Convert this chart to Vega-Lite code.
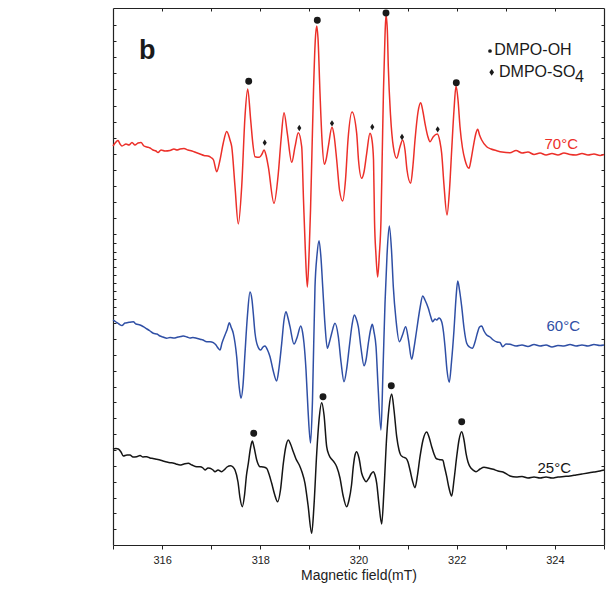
{
"$schema":"https://vega.github.io/schema/vega-lite/v6.json",
"width":491,"height":537,
"autosize":{"type":"none"},
"padding":{"left":113,"top":8,"right":2,"bottom":49},
"background":"white",
"config":{"view":{"stroke":null},"font":"Liberation Sans","axis":{"grid":false}},
"datasets":{
"spectra":[
{"s":"70°C","B":315.000,"I":399},{"s":"70°C","B":315.061,"I":403},{"s":"70°C","B":315.102,"I":404.5},{"s":"70°C","B":315.143,"I":401},{"s":"70°C","B":315.183,"I":399},{"s":"70°C","B":315.265,"I":401},{"s":"70°C","B":315.326,"I":400},{"s":"70°C","B":315.387,"I":402.5},{"s":"70°C","B":315.448,"I":400},{"s":"70°C","B":315.509,"I":402},{"s":"70°C","B":315.570,"I":402.5},{"s":"70°C","B":315.631,"I":399},{"s":"70°C","B":315.692,"I":398},{"s":"70°C","B":315.754,"I":397},{"s":"70°C","B":315.815,"I":395},{"s":"70°C","B":315.876,"I":394},{"s":"70°C","B":315.917,"I":392.5},{"s":"70°C","B":315.978,"I":395},{"s":"70°C","B":316.059,"I":394},{"s":"70°C","B":316.161,"I":394.5},{"s":"70°C","B":316.242,"I":396},{"s":"70°C","B":316.303,"I":395},{"s":"70°C","B":316.365,"I":396},{"s":"70°C","B":316.446,"I":396.5},{"s":"70°C","B":316.527,"I":395},{"s":"70°C","B":316.609,"I":394},{"s":"70°C","B":316.690,"I":392.5},{"s":"70°C","B":316.772,"I":391},{"s":"70°C","B":316.853,"I":389.5},{"s":"70°C","B":316.935,"I":389},{"s":"70°C","B":316.996,"I":387.5},{"s":"70°C","B":317.047,"I":385},{"s":"70°C","B":317.112,"I":373.3},{"s":"70°C","B":317.179,"I":385},{"s":"70°C","B":317.246,"I":402},{"s":"70°C","B":317.316,"I":413.5},{"s":"70°C","B":317.383,"I":405},{"s":"70°C","B":317.418,"I":398.3},{"s":"70°C","B":317.485,"I":358.3},{"s":"70°C","B":317.552,"I":321},{"s":"70°C","B":317.621,"I":358.3},{"s":"70°C","B":317.688,"I":428.3},{"s":"70°C","B":317.743,"I":456},{"s":"70°C","B":317.804,"I":425},{"s":"70°C","B":317.851,"I":400},{"s":"70°C","B":317.892,"I":388.3},{"s":"70°C","B":317.980,"I":387.7},{"s":"70°C","B":318.035,"I":391},{"s":"70°C","B":318.075,"I":395},{"s":"70°C","B":318.116,"I":390},{"s":"70°C","B":318.163,"I":378.3},{"s":"70°C","B":318.279,"I":341.7},{"s":"70°C","B":318.367,"I":371.7},{"s":"70°C","B":318.422,"I":405},{"s":"70°C","B":318.483,"I":432.3},{"s":"70°C","B":318.550,"I":411.7},{"s":"70°C","B":318.640,"I":382.7},{"s":"70°C","B":318.707,"I":398.3},{"s":"70°C","B":318.774,"I":412.3},{"s":"70°C","B":318.843,"I":398.3},{"s":"70°C","B":318.880,"I":345},{"s":"70°C","B":318.917,"I":295},{"s":"70°C","B":318.958,"I":258},{"s":"70°C","B":318.996,"I":295},{"s":"70°C","B":319.023,"I":335},{"s":"70°C","B":319.053,"I":395},{"s":"70°C","B":319.084,"I":455},{"s":"70°C","B":319.120,"I":505},{"s":"70°C","B":319.149,"I":519},{"s":"70°C","B":319.175,"I":507},{"s":"70°C","B":319.216,"I":451.7},{"s":"70°C","B":319.257,"I":405},{"s":"70°C","B":319.304,"I":380.7},{"s":"70°C","B":319.338,"I":385},{"s":"70°C","B":319.385,"I":398.3},{"s":"70°C","B":319.460,"I":417.7},{"s":"70°C","B":319.501,"I":410},{"s":"70°C","B":319.556,"I":385},{"s":"70°C","B":319.613,"I":355},{"s":"70°C","B":319.678,"I":344},{"s":"70°C","B":319.735,"I":365},{"s":"70°C","B":319.786,"I":405},{"s":"70°C","B":319.868,"I":433},{"s":"70°C","B":319.963,"I":411.7},{"s":"70°C","B":320.000,"I":385},{"s":"70°C","B":320.065,"I":366.7},{"s":"70°C","B":320.112,"I":373},{"s":"70°C","B":320.167,"I":391.7},{"s":"70°C","B":320.234,"I":411.7},{"s":"70°C","B":320.275,"I":405},{"s":"70°C","B":320.306,"I":385},{"s":"70°C","B":320.326,"I":325},{"s":"70°C","B":320.356,"I":290},{"s":"70°C","B":320.390,"I":268},{"s":"70°C","B":320.424,"I":290},{"s":"70°C","B":320.458,"I":325},{"s":"70°C","B":320.485,"I":395},{"s":"70°C","B":320.509,"I":455},{"s":"70°C","B":320.540,"I":510},{"s":"70°C","B":320.560,"I":530},{"s":"70°C","B":320.587,"I":515},{"s":"70°C","B":320.607,"I":478.3},{"s":"70°C","B":320.652,"I":430},{"s":"70°C","B":320.709,"I":398.3},{"s":"70°C","B":320.778,"I":386.7},{"s":"70°C","B":320.845,"I":398.3},{"s":"70°C","B":320.900,"I":405},{"s":"70°C","B":320.947,"I":395},{"s":"70°C","B":320.988,"I":375},{"s":"70°C","B":321.063,"I":361.7},{"s":"70°C","B":321.110,"I":380},{"s":"70°C","B":321.151,"I":405},{"s":"70°C","B":321.212,"I":433},{"s":"70°C","B":321.267,"I":442.3},{"s":"70°C","B":321.314,"I":433},{"s":"70°C","B":321.354,"I":421.7},{"s":"70°C","B":321.415,"I":408},{"s":"70°C","B":321.456,"I":403.3},{"s":"70°C","B":321.523,"I":408.3},{"s":"70°C","B":321.605,"I":411},{"s":"70°C","B":321.660,"I":403},{"s":"70°C","B":321.694,"I":391.7},{"s":"70°C","B":321.741,"I":360},{"s":"70°C","B":321.802,"I":330},{"s":"70°C","B":321.853,"I":355},{"s":"70°C","B":321.898,"I":395},{"s":"70°C","B":321.945,"I":435},{"s":"70°C","B":321.986,"I":459},{"s":"70°C","B":322.027,"I":445},{"s":"70°C","B":322.067,"I":418.3},{"s":"70°C","B":322.118,"I":397},{"s":"70°C","B":322.169,"I":385},{"s":"70°C","B":322.251,"I":376.7},{"s":"70°C","B":322.291,"I":385},{"s":"70°C","B":322.338,"I":398.3},{"s":"70°C","B":322.393,"I":412},{"s":"70°C","B":322.428,"I":415.7},{"s":"70°C","B":322.465,"I":410},{"s":"70°C","B":322.509,"I":405},{"s":"70°C","B":322.611,"I":398.3},{"s":"70°C","B":322.699,"I":396},{"s":"70°C","B":322.815,"I":394.3},{"s":"70°C","B":322.923,"I":393},{"s":"70°C","B":323.086,"I":392.3},{"s":"70°C","B":323.208,"I":394.5},{"s":"70°C","B":323.330,"I":392},{"s":"70°C","B":323.452,"I":393},{"s":"70°C","B":323.575,"I":390.5},{"s":"70°C","B":323.697,"I":392},{"s":"70°C","B":323.819,"I":390},{"s":"70°C","B":323.941,"I":391.5},{"s":"70°C","B":324.063,"I":390},{"s":"70°C","B":324.185,"I":392},{"s":"70°C","B":324.308,"I":390.5},{"s":"70°C","B":324.430,"I":390},{"s":"70°C","B":324.552,"I":391.5},{"s":"70°C","B":324.674,"I":390},{"s":"70°C","B":324.796,"I":391},{"s":"70°C","B":324.919,"I":389.5},{"s":"70°C","B":325.000,"I":390.5},
{"s":"60°C","B":315.000,"I":225},{"s":"60°C","B":315.061,"I":223},{"s":"60°C","B":315.122,"I":221},{"s":"60°C","B":315.183,"I":219.5},{"s":"60°C","B":315.244,"I":222},{"s":"60°C","B":315.306,"I":222.5},{"s":"60°C","B":315.367,"I":223},{"s":"60°C","B":315.413,"I":223.3},{"s":"60°C","B":315.468,"I":221},{"s":"60°C","B":315.550,"I":220},{"s":"60°C","B":315.617,"I":218.3},{"s":"60°C","B":315.692,"I":216},{"s":"60°C","B":315.754,"I":214},{"s":"60°C","B":315.821,"I":211.7},{"s":"60°C","B":315.896,"I":211},{"s":"60°C","B":315.957,"I":209},{"s":"60°C","B":316.018,"I":208},{"s":"60°C","B":316.094,"I":206.7},{"s":"60°C","B":316.161,"I":207.5},{"s":"60°C","B":316.242,"I":207},{"s":"60°C","B":316.324,"I":208},{"s":"60°C","B":316.385,"I":208.5},{"s":"60°C","B":316.432,"I":209},{"s":"60°C","B":316.507,"I":208},{"s":"60°C","B":316.568,"I":207},{"s":"60°C","B":316.629,"I":207.5},{"s":"60°C","B":316.705,"I":206.7},{"s":"60°C","B":316.772,"I":205.7},{"s":"60°C","B":316.833,"I":205},{"s":"60°C","B":316.908,"I":203.3},{"s":"60°C","B":316.976,"I":203.3},{"s":"60°C","B":317.043,"I":202.3},{"s":"60°C","B":317.098,"I":200},{"s":"60°C","B":317.139,"I":197},{"s":"60°C","B":317.179,"I":195},{"s":"60°C","B":317.220,"I":202},{"s":"60°C","B":317.281,"I":210},{"s":"60°C","B":317.322,"I":215},{"s":"60°C","B":317.369,"I":222.3},{"s":"60°C","B":317.404,"I":218},{"s":"60°C","B":317.450,"I":211.7},{"s":"60°C","B":317.519,"I":188.3},{"s":"60°C","B":317.566,"I":160},{"s":"60°C","B":317.607,"I":146.7},{"s":"60°C","B":317.648,"I":160},{"s":"60°C","B":317.688,"I":191.7},{"s":"60°C","B":317.739,"I":230},{"s":"60°C","B":317.790,"I":253},{"s":"60°C","B":317.831,"I":245},{"s":"60°C","B":317.857,"I":231.7},{"s":"60°C","B":317.892,"I":212},{"s":"60°C","B":317.939,"I":200},{"s":"60°C","B":318.008,"I":195},{"s":"60°C","B":318.055,"I":198},{"s":"60°C","B":318.096,"I":199},{"s":"60°C","B":318.147,"I":195},{"s":"60°C","B":318.198,"I":188.3},{"s":"60°C","B":318.259,"I":175},{"s":"60°C","B":318.334,"I":164},{"s":"60°C","B":318.381,"I":177},{"s":"60°C","B":318.436,"I":201.7},{"s":"60°C","B":318.483,"I":225},{"s":"60°C","B":318.523,"I":233.3},{"s":"60°C","B":318.564,"I":227},{"s":"60°C","B":318.605,"I":218.3},{"s":"60°C","B":318.686,"I":201},{"s":"60°C","B":318.754,"I":208.3},{"s":"60°C","B":318.823,"I":219},{"s":"60°C","B":318.860,"I":213},{"s":"60°C","B":318.890,"I":201.7},{"s":"60°C","B":318.931,"I":175},{"s":"60°C","B":318.972,"I":135},{"s":"60°C","B":319.023,"I":102},{"s":"60°C","B":319.063,"I":145},{"s":"60°C","B":319.114,"I":258.3},{"s":"60°C","B":319.155,"I":290},{"s":"60°C","B":319.196,"I":304.3},{"s":"60°C","B":319.236,"I":287},{"s":"60°C","B":319.271,"I":258.3},{"s":"60°C","B":319.318,"I":220},{"s":"60°C","B":319.365,"I":196.7},{"s":"60°C","B":319.409,"I":203},{"s":"60°C","B":319.454,"I":211.7},{"s":"60°C","B":319.521,"I":221.7},{"s":"60°C","B":319.589,"I":208.3},{"s":"60°C","B":319.644,"I":183},{"s":"60°C","B":319.705,"I":163.3},{"s":"60°C","B":319.756,"I":175},{"s":"60°C","B":319.813,"I":198.3},{"s":"60°C","B":319.868,"I":220},{"s":"60°C","B":319.915,"I":230},{"s":"60°C","B":319.949,"I":227},{"s":"60°C","B":319.996,"I":218.3},{"s":"60°C","B":320.051,"I":197},{"s":"60°C","B":320.112,"I":179.3},{"s":"60°C","B":320.153,"I":185},{"s":"60°C","B":320.200,"I":201.7},{"s":"60°C","B":320.245,"I":215},{"s":"60°C","B":320.281,"I":220.7},{"s":"60°C","B":320.316,"I":213},{"s":"60°C","B":320.357,"I":198.3},{"s":"60°C","B":320.397,"I":160},{"s":"60°C","B":320.458,"I":115},{"s":"60°C","B":320.499,"I":175},{"s":"60°C","B":320.540,"I":242},{"s":"60°C","B":320.581,"I":290},{"s":"60°C","B":320.627,"I":319},{"s":"60°C","B":320.672,"I":295},{"s":"60°C","B":320.709,"I":258.3},{"s":"60°C","B":320.764,"I":225},{"s":"60°C","B":320.831,"I":203.3},{"s":"60°C","B":320.896,"I":210},{"s":"60°C","B":320.961,"I":218.3},{"s":"60°C","B":321.018,"I":205},{"s":"60°C","B":321.083,"I":185.7},{"s":"60°C","B":321.130,"I":197},{"s":"60°C","B":321.185,"I":215},{"s":"60°C","B":321.253,"I":237},{"s":"60°C","B":321.308,"I":249},{"s":"60°C","B":321.354,"I":245},{"s":"60°C","B":321.422,"I":236.7},{"s":"60°C","B":321.467,"I":229},{"s":"60°C","B":321.511,"I":223.3},{"s":"60°C","B":321.558,"I":226},{"s":"60°C","B":321.593,"I":225},{"s":"60°C","B":321.640,"I":227},{"s":"60°C","B":321.694,"I":223.3},{"s":"60°C","B":321.731,"I":213},{"s":"60°C","B":321.762,"I":198.3},{"s":"60°C","B":321.802,"I":175},{"s":"60°C","B":321.849,"I":162.7},{"s":"60°C","B":321.894,"I":183},{"s":"60°C","B":321.945,"I":215},{"s":"60°C","B":321.986,"I":247},{"s":"60°C","B":322.021,"I":264},{"s":"60°C","B":322.057,"I":255},{"s":"60°C","B":322.102,"I":238.3},{"s":"60°C","B":322.149,"I":217},{"s":"60°C","B":322.204,"I":201.7},{"s":"60°C","B":322.261,"I":198},{"s":"60°C","B":322.318,"I":196.7},{"s":"60°C","B":322.373,"I":203},{"s":"60°C","B":322.420,"I":211.7},{"s":"60°C","B":322.465,"I":218},{"s":"60°C","B":322.509,"I":219},{"s":"60°C","B":322.556,"I":214},{"s":"60°C","B":322.611,"I":210},{"s":"60°C","B":322.678,"I":208},{"s":"60°C","B":322.745,"I":205},{"s":"60°C","B":322.821,"I":203},{"s":"60°C","B":322.882,"I":202.5},{"s":"60°C","B":322.937,"I":198.3},{"s":"60°C","B":323.004,"I":201},{"s":"60°C","B":323.086,"I":200.7},{"s":"60°C","B":323.208,"I":199},{"s":"60°C","B":323.330,"I":200},{"s":"60°C","B":323.452,"I":198.5},{"s":"60°C","B":323.575,"I":200.5},{"s":"60°C","B":323.697,"I":199},{"s":"60°C","B":323.819,"I":200},{"s":"60°C","B":323.941,"I":198},{"s":"60°C","B":324.063,"I":199.5},{"s":"60°C","B":324.185,"I":199},{"s":"60°C","B":324.308,"I":200.5},{"s":"60°C","B":324.430,"I":199},{"s":"60°C","B":324.552,"I":200},{"s":"60°C","B":324.674,"I":199},{"s":"60°C","B":324.796,"I":200.5},{"s":"60°C","B":324.919,"I":199.5},{"s":"60°C","B":325.000,"I":200},
{"s":"25°C","B":315.000,"I":96},{"s":"25°C","B":315.061,"I":96.5},{"s":"25°C","B":315.108,"I":96},{"s":"25°C","B":315.163,"I":93},{"s":"25°C","B":315.210,"I":89},{"s":"25°C","B":315.285,"I":90},{"s":"25°C","B":315.346,"I":90},{"s":"25°C","B":315.407,"I":88},{"s":"25°C","B":315.483,"I":88.3},{"s":"25°C","B":315.550,"I":89.5},{"s":"25°C","B":315.611,"I":88},{"s":"25°C","B":315.686,"I":88.3},{"s":"25°C","B":315.754,"I":87},{"s":"25°C","B":315.815,"I":86.5},{"s":"25°C","B":315.890,"I":85.7},{"s":"25°C","B":315.957,"I":85},{"s":"25°C","B":316.018,"I":84},{"s":"25°C","B":316.094,"I":83},{"s":"25°C","B":316.161,"I":82.3},{"s":"25°C","B":316.222,"I":82},{"s":"25°C","B":316.283,"I":81},{"s":"25°C","B":316.365,"I":80},{"s":"25°C","B":316.446,"I":81},{"s":"25°C","B":316.534,"I":81.7},{"s":"25°C","B":316.609,"I":80},{"s":"25°C","B":316.705,"I":78.3},{"s":"25°C","B":316.772,"I":78.3},{"s":"25°C","B":316.833,"I":77},{"s":"25°C","B":316.874,"I":75},{"s":"25°C","B":316.935,"I":77},{"s":"25°C","B":316.976,"I":76.7},{"s":"25°C","B":317.037,"I":75},{"s":"25°C","B":317.077,"I":73.3},{"s":"25°C","B":317.139,"I":75},{"s":"25°C","B":317.214,"I":73.3},{"s":"25°C","B":317.261,"I":75},{"s":"25°C","B":317.322,"I":78},{"s":"25°C","B":317.397,"I":79.3},{"s":"25°C","B":317.444,"I":78},{"s":"25°C","B":317.485,"I":75},{"s":"25°C","B":317.546,"I":63},{"s":"25°C","B":317.587,"I":47},{"s":"25°C","B":317.634,"I":38.3},{"s":"25°C","B":317.679,"I":50},{"s":"25°C","B":317.719,"I":70},{"s":"25°C","B":317.756,"I":81.7},{"s":"25°C","B":317.800,"I":97},{"s":"25°C","B":317.837,"I":104},{"s":"25°C","B":317.872,"I":98},{"s":"25°C","B":317.927,"I":85},{"s":"25°C","B":317.994,"I":78.3},{"s":"25°C","B":318.055,"I":78},{"s":"25°C","B":318.130,"I":76.7},{"s":"25°C","B":318.177,"I":71},{"s":"25°C","B":318.232,"I":61.7},{"s":"25°C","B":318.289,"I":51},{"s":"25°C","B":318.354,"I":43.3},{"s":"25°C","B":318.411,"I":55},{"s":"25°C","B":318.469,"I":81.7},{"s":"25°C","B":318.523,"I":99},{"s":"25°C","B":318.570,"I":105},{"s":"25°C","B":318.615,"I":101},{"s":"25°C","B":318.672,"I":93.3},{"s":"25°C","B":318.727,"I":86},{"s":"25°C","B":318.794,"I":80},{"s":"25°C","B":318.849,"I":73},{"s":"25°C","B":318.910,"I":61.7},{"s":"25°C","B":318.972,"I":40},{"s":"25°C","B":319.047,"I":11.7},{"s":"25°C","B":319.094,"I":40},{"s":"25°C","B":319.149,"I":91.7},{"s":"25°C","B":319.196,"I":125},{"s":"25°C","B":319.251,"I":142.3},{"s":"25°C","B":319.298,"I":130},{"s":"25°C","B":319.352,"I":98.3},{"s":"25°C","B":319.399,"I":90},{"s":"25°C","B":319.454,"I":85.7},{"s":"25°C","B":319.501,"I":83},{"s":"25°C","B":319.556,"I":78.3},{"s":"25°C","B":319.623,"I":67},{"s":"25°C","B":319.684,"I":50},{"s":"25°C","B":319.760,"I":38.3},{"s":"25°C","B":319.807,"I":45},{"s":"25°C","B":319.858,"I":60},{"s":"25°C","B":319.894,"I":78.3},{"s":"25°C","B":319.929,"I":90},{"s":"25°C","B":319.963,"I":93.3},{"s":"25°C","B":320.010,"I":87},{"s":"25°C","B":320.065,"I":71.7},{"s":"25°C","B":320.112,"I":66},{"s":"25°C","B":320.153,"I":63.3},{"s":"25°C","B":320.214,"I":67},{"s":"25°C","B":320.255,"I":71},{"s":"25°C","B":320.301,"I":73.3},{"s":"25°C","B":320.336,"I":70},{"s":"25°C","B":320.371,"I":61.7},{"s":"25°C","B":320.418,"I":40},{"s":"25°C","B":320.472,"I":21},{"s":"25°C","B":320.519,"I":55},{"s":"25°C","B":320.574,"I":108.3},{"s":"25°C","B":320.621,"I":137},{"s":"25°C","B":320.676,"I":151},{"s":"25°C","B":320.723,"I":135},{"s":"25°C","B":320.778,"I":108.3},{"s":"25°C","B":320.825,"I":95},{"s":"25°C","B":320.859,"I":90},{"s":"25°C","B":320.906,"I":88},{"s":"25°C","B":320.967,"I":86.7},{"s":"25°C","B":321.008,"I":83},{"s":"25°C","B":321.049,"I":75},{"s":"25°C","B":321.100,"I":64},{"s":"25°C","B":321.151,"I":57.3},{"s":"25°C","B":321.202,"I":70},{"s":"25°C","B":321.253,"I":88.3},{"s":"25°C","B":321.314,"I":105},{"s":"25°C","B":321.389,"I":113},{"s":"25°C","B":321.436,"I":108},{"s":"25°C","B":321.491,"I":98.3},{"s":"25°C","B":321.538,"I":91},{"s":"25°C","B":321.579,"I":86.7},{"s":"25°C","B":321.640,"I":85.5},{"s":"25°C","B":321.715,"I":85},{"s":"25°C","B":321.752,"I":78},{"s":"25°C","B":321.797,"I":68.3},{"s":"25°C","B":321.843,"I":57},{"s":"25°C","B":321.898,"I":49},{"s":"25°C","B":321.945,"I":65},{"s":"25°C","B":322.000,"I":88.3},{"s":"25°C","B":322.047,"I":105},{"s":"25°C","B":322.102,"I":113.3},{"s":"25°C","B":322.149,"I":105},{"s":"25°C","B":322.190,"I":91.7},{"s":"25°C","B":322.230,"I":83},{"s":"25°C","B":322.271,"I":78.3},{"s":"25°C","B":322.332,"I":75},{"s":"25°C","B":322.393,"I":73.3},{"s":"25°C","B":322.475,"I":76},{"s":"25°C","B":322.556,"I":77.7},{"s":"25°C","B":322.638,"I":77},{"s":"25°C","B":322.745,"I":75.7},{"s":"25°C","B":322.841,"I":74},{"s":"25°C","B":322.943,"I":73},{"s":"25°C","B":323.086,"I":69},{"s":"25°C","B":323.208,"I":68},{"s":"25°C","B":323.330,"I":68.5},{"s":"25°C","B":323.452,"I":67},{"s":"25°C","B":323.575,"I":68},{"s":"25°C","B":323.697,"I":67},{"s":"25°C","B":323.819,"I":68},{"s":"25°C","B":323.941,"I":67},{"s":"25°C","B":324.063,"I":68},{"s":"25°C","B":324.185,"I":68.5},{"s":"25°C","B":324.308,"I":69},{"s":"25°C","B":324.430,"I":70},{"s":"25°C","B":324.552,"I":71},{"s":"25°C","B":324.674,"I":72},{"s":"25°C","B":324.796,"I":73},{"s":"25°C","B":324.919,"I":74},{"s":"25°C","B":325.000,"I":75}
],
"markers":[
{"k":"OH","B":317.764,"I":463.7},{"k":"OH","B":319.161,"I":524.7},{"k":"OH","B":320.560,"I":532},{"k":"OH","B":321.992,"I":462.3},
{"k":"SO4","B":318.090,"I":402.3},{"k":"SO4","B":318.794,"I":417},{"k":"SO4","B":319.460,"I":421.7},{"k":"SO4","B":320.281,"I":418},{"k":"SO4","B":320.886,"I":408},{"k":"SO4","B":321.613,"I":415.7},
{"k":"OH","B":317.866,"I":111.7},{"k":"OH","B":319.277,"I":148.3},{"k":"OH","B":320.668,"I":159.3},{"k":"OH","B":322.102,"I":123.3}
],
"legdot":[{"B":322.678,"I":494}],
"legdia":[{"B":322.713,"I":472.7}],
"legtext":[{"t":"DMPO-OH","B":322.766,"I":490},{"t":"DMPO-SO","B":322.862,"I":468.3},{"t":"4","B":324.410,"I":463.3}],
"temps":[{"s":"70°C","B":324.471,"I":396},{"s":"60°C","B":324.511,"I":214},{"s":"25°C","B":324.328,"I":72}],
"panel":[{"t":"b","B":315.530,"I":486}]
},
"layer":[
{"data":{"name":"spectra"},
 "mark":{"type":"line","strokeWidth":1.5,"interpolate":"monotone"},
 "encoding":{
  "x":{"field":"B","type":"quantitative","scale":{"domain":[315,325],"nice":false,"zero":false},
   "axis":{"orient":"bottom","values":[315,316,317,318,319,320,321,322,323,324,325],"labelExpr":"(datum.value % 2 == 0 && datum.value > 315 && datum.value < 325) ? datum.label : ''","tickSize":4,"tickColor":"#222","domainColor":"#222","domainWidth":1.2,"labelFontSize":11,"labelColor":"#222","labelFont":"Liberation Sans","labelPadding":5,"labelFlush":false,"labelOverlap":false,"title":"Magnetic field(mT)","titleFont":"Liberation Sans","titleFontSize":14,"titleFontWeight":"normal","titleColor":"#222","titlePadding":3,"grid":false}},
  "y":{"field":"I","type":"quantitative","scale":{"domain":[0,537],"nice":false,"zero":false},
   "axis":{"orient":"left","values":[15.7,31.7,47.3,63.3,79.3,95,110.7,126.7,142.7,158.3,174.3,190,206,221.7,229.8,237.9,246,254.3,261.7,269.7,278.3,285.7,293.3,301.7,310.7,326.7,342.7,359,375,391,407.3,423.3,439.3,455.7,471.7,487.7,504,520],"labels":false,"tickSize":-3,"tickColor":"#222","domainColor":"#222","domainWidth":1.2,"title":null,"grid":false}},
  "color":{"field":"s","type":"nominal","scale":{"domain":["70°C","60°C","25°C"],"range":["#ec2f29","#2f4fa5","#151515"]},"legend":null}
 }},
{"data":{"name":"markers"},
 "mark":{"type":"point","filled":true,"opacity":1,"color":"#1a1a1a"},
 "encoding":{
  "x":{"field":"B","type":"quantitative","axis":{"orient":"top","values":[316,317,318,319,320,321,322,323,324],"labels":false,"tickSize":-3,"tickColor":"#222","domainColor":"#222","domainWidth":1.2,"title":null,"grid":false}},
  "y":{"field":"I","type":"quantitative","axis":{"orient":"right","values":[15.7,31.7,47.3,63.3,79.3,95,110.7,126.7,142.7,158.3,174.3,190,206,221.7,229.8,237.9,246,254.3,261.7,269.7,278.3,285.7,293.3,301.7,310.7,326.7,342.7,359,375,391,407.3,423.3,439.3,455.7,471.7,487.7,504,520],"labels":false,"tickSize":-3,"tickColor":"#222","domainColor":"#222","domainWidth":1.2,"title":null,"grid":false}},
  "shape":{"field":"k","type":"nominal","scale":{"domain":["OH","SO4"],"range":["circle","M0,-1L0.65,0L0,1L-0.65,0Z"]},"legend":null},
  "size":{"field":"k","type":"nominal","scale":{"domain":["OH","SO4"],"range":[48,40]},"legend":null}
 }},
{"data":{"name":"legdot"},
 "mark":{"type":"point","filled":true,"opacity":1,"color":"#1a1a1a","shape":"circle","size":14},
 "encoding":{"x":{"field":"B","type":"quantitative","axis":null},"y":{"field":"I","type":"quantitative","axis":null}}},
{"data":{"name":"legdia"},
 "mark":{"type":"point","filled":true,"opacity":1,"color":"#1a1a1a","shape":"M0,-1L0.7,0L0,1L-0.7,0Z","size":45},
 "encoding":{"x":{"field":"B","type":"quantitative","axis":null},"y":{"field":"I","type":"quantitative","axis":null}}},
{"data":{"name":"legtext"},
 "mark":{"type":"text","align":"left","baseline":"alphabetic","fontSize":16,"font":"Liberation Sans","color":"#1a1a1a"},
 "encoding":{"x":{"field":"B","type":"quantitative","axis":null},"y":{"field":"I","type":"quantitative","axis":null},"text":{"field":"t"}}},
{"data":{"name":"temps"},
 "mark":{"type":"text","align":"right","baseline":"alphabetic","fontSize":15,"font":"Liberation Sans"},
 "encoding":{"x":{"field":"B","type":"quantitative","axis":null},"y":{"field":"I","type":"quantitative","axis":null},"text":{"field":"s"},"color":{"field":"s","type":"nominal","legend":null}}},
{"data":{"name":"panel"},
 "mark":{"type":"text","align":"left","baseline":"alphabetic","fontSize":27,"fontWeight":"bold","font":"Liberation Sans","color":"#1a1a1a"},
 "encoding":{"x":{"field":"B","type":"quantitative","axis":null},"y":{"field":"I","type":"quantitative","axis":null},"text":{"field":"t"}}}
],
"resolve":{"axis":{"x":"independent","y":"independent"}}
}
